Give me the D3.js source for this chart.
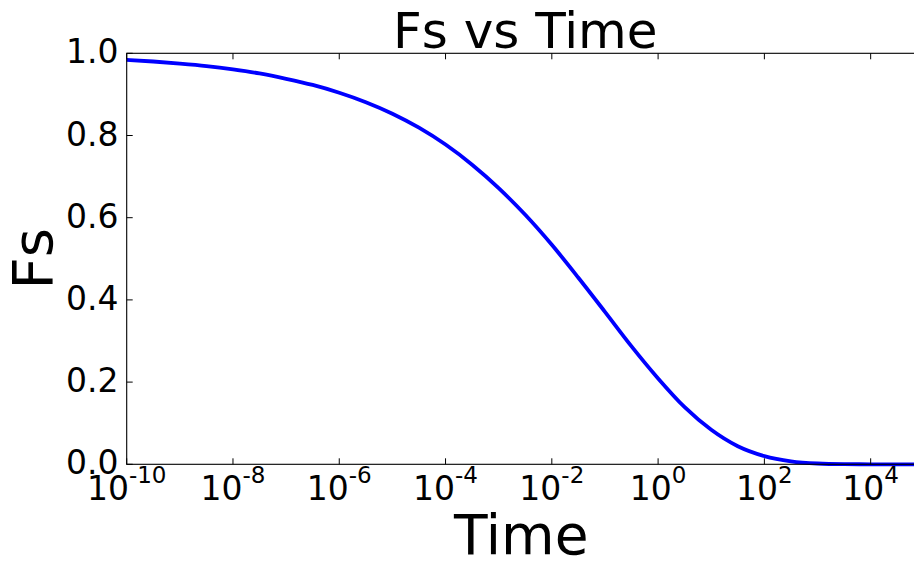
<!DOCTYPE html>
<html>
<head>
<meta charset="utf-8">
<script src="https://cdn.jsdelivr.net/npm/d3@7/dist/d3.min.js"></script>
<style>
  html, body { margin: 0; padding: 0; background: #fff; }
  svg { display: block; }
  text { font-family: "DejaVu Sans", sans-serif; fill: #000; }
</style>
</head>
<body>
<svg id="chart" width="914" height="561"></svg>
<script>
// ---- data ----
const timeExponents = [-10, -9.5, -9, -8.5, -8, -7.5, -7, -6.5, -6, -5.5, -5, -4.5, -4, -3.5, -3, -2.5, -2, -1.5, -1, -0.5, 0, 0.5, 1, 1.5, 2, 2.5, 3, 3.5, 4, 4.5, 5];
const fsValues = [0.984, 0.980, 0.975, 0.969, 0.961, 0.951, 0.938, 0.923, 0.904, 0.881, 0.853, 0.819, 0.778, 0.729, 0.672, 0.607, 0.534, 0.454, 0.371, 0.287, 0.209, 0.139, 0.084, 0.044, 0.020, 0.0073, 0.0020, 0.0004, 0.00006, 0.000005, 0.0];
const xTickExponents = [-10, -8, -6, -4, -2, 0, 2, 4];
const yTicks = [0.0, 0.2, 0.4, 0.6, 0.8, 1.0];
const titleText = "Fs vs Time";
const xLabel = "Time";
const yLabel = "Fs";

(function () {
const data = timeExponents.map((e, i) => ({ t: Math.pow(10, e), fs: fsValues[i] }));

const svg = d3.select("#chart");
const pl = 126.7, pr = 923.8, pt = 53.3, pb = 464.3;

const x = d3.scaleLog().domain([1e-10, 1e5]).range([pl, pr]);
const y = d3.scaleLinear().domain([0, 1]).range([pb, pt]);

// curve
const line = d3.line().x(d => x(d.t)).y(d => y(d.fs)).curve(d3.curveMonotoneX);
svg.append("path")
  .datum(data)
  .attr("d", line)
  .attr("fill", "none")
  .attr("stroke", "#0000ff")
  .attr("stroke-width", 3.8)
  .attr("stroke-linejoin", "round");

// spines
const spineColor = "#000";
svg.append("rect")
  .attr("x", pl).attr("y", pt)
  .attr("width", pr - pl).attr("height", pb - pt)
  .attr("fill", "none").attr("stroke", spineColor).attr("stroke-width", 1.1);

// x axis ticks (inward) bottom and top
const gx = svg.append("g");
xTickExponents.forEach(e => {
  const px = x(Math.pow(10, e));
  gx.append("line").attr("x1", px).attr("x2", px).attr("y1", pb).attr("y2", pb - 6)
    .attr("stroke", spineColor).attr("stroke-width", 1);
  gx.append("line").attr("x1", px).attr("x2", px).attr("y1", pt).attr("y2", pt + 6)
    .attr("stroke", spineColor).attr("stroke-width", 1);
  const t = gx.append("text")
    .attr("x", px).attr("y", 500)
    .attr("text-anchor", "middle")
    .attr("font-size", 33);
  t.append("tspan").text("10");
  t.append("tspan").attr("dy", -17).attr("font-size", 23).text(String(e));
});

// y axis ticks (inward) left and right
const gy = svg.append("g");
yTicks.forEach(v => {
  const py = y(v);
  gy.append("line").attr("x1", pl).attr("x2", pl + 6).attr("y1", py).attr("y2", py)
    .attr("stroke", spineColor).attr("stroke-width", 1);
  gy.append("line").attr("x1", pr).attr("x2", pr - 6).attr("y1", py).attr("y2", py)
    .attr("stroke", spineColor).attr("stroke-width", 1);
  gy.append("text")
    .attr("x", 118.5).attr("y", py + 10)
    .attr("text-anchor", "end")
    .attr("font-size", 33)
    .text(d3.format(".1f")(v));
});

// title
svg.append("text")
  .attr("x", (pl + pr) / 2).attr("y", 48)
  .attr("text-anchor", "middle")
  .attr("font-size", 50)
  .text(titleText);

// x label
svg.append("text")
  .attr("x", (pl + pr) / 2 - 4).attr("y", 554)
  .attr("text-anchor", "middle")
  .attr("font-size", 55)
  .text(xLabel);

// y label
svg.append("text")
  .attr("transform", `translate(52, ${(pt + pb) / 2}) rotate(-90)`)
  .attr("text-anchor", "middle")
  .attr("font-size", 56)
  .text(yLabel);
})();
</script>
</body>
</html>
